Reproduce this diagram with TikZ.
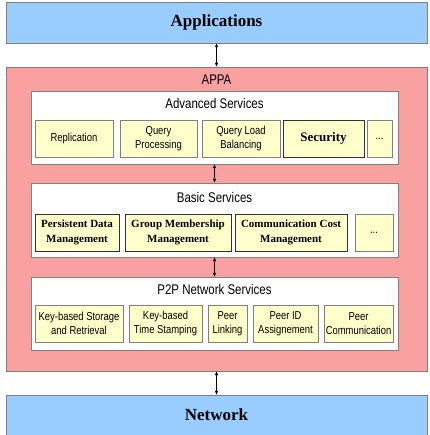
\documentclass[tikz,border=0pt]{standalone}
\usepackage{fontspec}
\setmainfont{Liberation Serif}
\newfontfamily\narrowsf[FakeStretch=0.82]{Liberation Sans}
\usepackage{tikz}
\usetikzlibrary{arrows.meta}

\definecolor{layerblue}{HTML}{99CCFF}
\definecolor{appapink}{HTML}{F9A0A0}
\definecolor{itemyellow}{HTML}{FFFFCC}
\definecolor{boxgray}{HTML}{808080}

\begin{document}
\begin{tikzpicture}[x=1pt,y=-1pt,
		layer/.style={draw=boxgray,fill=layerblue,minimum width=421pt,inner sep=0pt,
			font=\fontsize{17}{20}\selectfont\bfseries},
		section/.style={draw=boxgray,fill=white,minimum width=367pt,inner sep=0pt},
		title/.style={font=\narrowsf\fontsize{14}{16}\selectfont},
		item/.style={draw=boxgray,fill=itemyellow,minimum height=37pt,inner sep=0pt,align=center,
			font=\narrowsf\fontsize{11.5}{14}\selectfont},
		bolditem/.style={item,draw=black!80,line width=0.9pt,
			font=\fontsize{11}{15}\selectfont\bfseries},
		link/.style={{Latex[length=4pt,width=3.5pt]}-{Latex[length=4pt,width=3.5pt]},thin}]
	\useasboundingbox (0,0) rectangle (429,435);
	
	% aeussere Schichten
	\node[layer,minimum height=41pt] (app) at (216.5,22.5) {Applications};
	\node[draw=boxgray,fill=appapink,minimum width=421pt,minimum height=304pt] (appa) at (216.5,219) {};
	\node[title] (appatitle) at (216.5,80) {APPA};
	\node[layer,minimum height=45pt] (net) at (216.5,417.5) {};
	\node[layer,draw=none,fill=none] (nettext) at (216.5,415) {Network};
	
	% Advanced Services
	\node[section,minimum height=73pt] (adv) at (214.5,127.5) {};
	\node[title] (advtitle) at (214.5,103) {Advanced Services};
	\node[item,minimum width=78pt] (repl) at (74,138.5) {Replication};
	\node[item,minimum width=77pt] (qproc) at (158.5,138.5) {Query\\Processing};
	\node[item,minimum width=78pt] (qload) at (241,138.5) {Query Load\\Balancing};
	\node[bolditem,minimum width=81pt,font=\fontsize{13}{15}\selectfont\bfseries] (secu) at (323.5,138.5) {Security};
	\node[item,minimum width=25pt] (advdots) at (379.5,138.5) {...};
	
	% Basic Services
	\node[section,minimum height=74pt] (bas) at (214.5,220) {};
	\node[title] (bastitle) at (214.5,197) {Basic Services};
	\node[bolditem,minimum width=84pt] (pdm) at (77,232.5) {Persistent Data\\Management};
	\node[bolditem,minimum width=106pt] (gmm) at (178,232.5) {Group Membership\\Management};
	\node[bolditem,minimum width=112pt] (ccm) at (291,232.5) {Communication Cost\\Management};
	\node[item,minimum width=38pt] (basdots) at (374,232.5) {...};
	
	% P2P Network Services
	\node[section,minimum height=73pt] (p2p) at (214.5,313.5) {};
	\node[title] (p2ptitle) at (214.5,289) {P2P Network Services};
	\node[item,minimum width=88pt] (kbsr) at (79,323.5) {Key-based Storage\\and Retrieval};
	\node[item,minimum width=73pt] (kbts) at (165.5,323.5) {Key-based\\Time Stamping};
	\node[item,minimum width=39pt] (plink) at (227.5,323.5) {Peer\\Linking};
	\node[item,minimum width=65pt] (pida) at (285.5,323.5) {Peer ID\\Assignement};
	\node[item,minimum width=69pt] (pcom) at (358.5,323.5) {Peer\\Communication};
	
	% Verbindungen
	\draw[link] (app.south) -- (appa.north);
	\draw[link] (adv.south) -- (bas.north);
	\draw[link] (bas.south) -- (p2p.north);
	\draw[link] (appa.south) -- (net.north);
	
\end{tikzpicture}
\end{document}
